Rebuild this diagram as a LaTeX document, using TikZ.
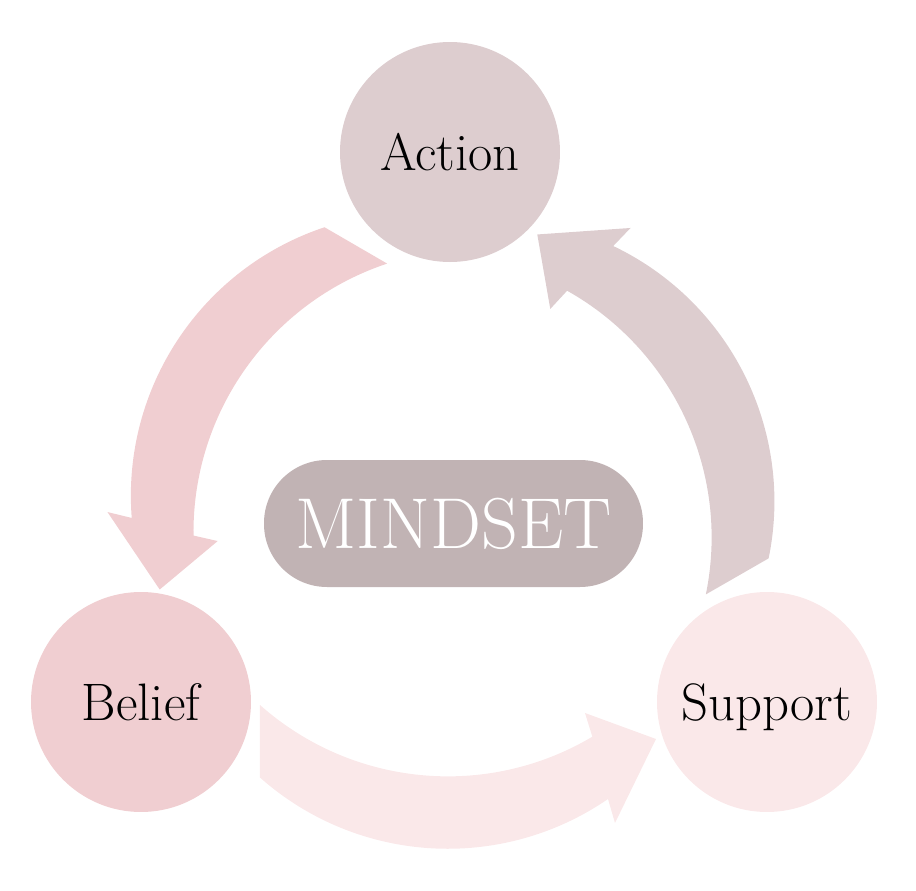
\documentclass[tikz,border=0pt]{standalone}
\usepackage{xcolor}
\usepackage{tikz}
\usetikzlibrary{calc}
\definecolor{actionrose}{RGB}{221,205,207}
\definecolor{beliefpink}{RGB}{240,206,209}
\definecolor{supportblush}{RGB}{250,232,233}
\definecolor{mindsetgray}{RGB}{193,179,180}

% one curved block arrow, turned round the hub
\newcommand{\bendarrow}[2]{%
  \fill[#1, rotate around={#2:(hub)}]
    (260,185) arc[start angle=228.4, end angle=300.7, radius=283]
    -- (585,177) -- (656,151) -- (615,67) -- (608,91)
    arc[start angle=304.5, end angle=228.4, radius=283] -- cycle;}

\begin{document}
\begin{tikzpicture}[
  x=0.1mm, y=0.1mm,
  stage/.style={circle, minimum size=22mm, inner sep=0pt, text depth=0pt, font=\fontsize{15}{18}\selectfont},
  core/.style={rectangle, rounded corners=6.3mm, fill=mindsetgray, minimum width=37.9mm, minimum height=12.7mm, inner sep=0pt, text depth=0pt, text=white, font=\fontsize{20.5}{24}\selectfont}
]
\useasboundingbox (0,0) rectangle (916,890);
\coordinate (hub) at (451,369);

\bendarrow{supportblush}{0}
\bendarrow{actionrose}{120}
\bendarrow{beliefpink}{-120}

\node[stage, fill=actionrose] (action) at (450,738) {Action};
\node[stage, fill=beliefpink] (belief) at (141,188) {Belief};
\node[stage, fill=supportblush] (support) at (767,188) {Support};
\node[core] (mindset) at (453.5,366.5) {MINDSET};
\end{tikzpicture}
\end{document}
